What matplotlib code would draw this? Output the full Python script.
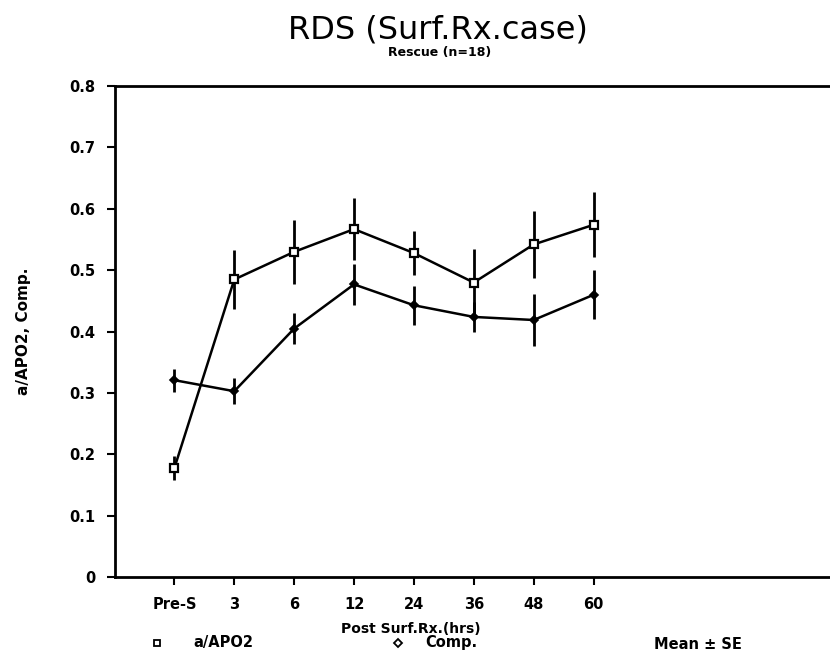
import numpy as np
import matplotlib.pyplot as plt
from matplotlib.lines import Line2D

# data
labels = ["Pre-S", "3", "6", "12", "24", "36", "48", "60"]
apo2 = [0.178, 0.485, 0.530, 0.567, 0.528, 0.480, 0.542, 0.574]
apo2_se = [0.020, 0.048, 0.052, 0.050, 0.036, 0.055, 0.055, 0.053]
comp = [0.321, 0.303, 0.405, 0.477, 0.443, 0.424, 0.419, 0.460]
comp_se = [0.019, 0.021, 0.025, 0.033, 0.032, 0.024, 0.042, 0.040]
yticks = [0, 0.1, 0.2, 0.3, 0.4, 0.5, 0.6, 0.7, 0.8]


def main():
    fig = plt.figure(figsize=(8.3, 6.62), dpi=100)
    ax = fig.add_axes([0.138, 0.128, 0.862, 0.742])

    x = np.arange(1, len(labels) + 1)

    ax.errorbar(x, apo2, yerr=apo2_se, color="black", lw=1.8, elinewidth=2.0,
                capsize=0, marker="s", ms=6, mfc="white", mec="black", mew=1.6)
    ax.errorbar(x, comp, yerr=comp_se, color="black", lw=1.8, elinewidth=2.0,
                capsize=0, marker="D", ms=4, mfc="black", mec="black", mew=1.2)

    ax.set_xlim(0, 11.95)
    ax.set_ylim(0, 0.8)
    ax.set_xticks(x)
    ax.set_xticklabels(labels, fontsize=10.5, fontweight="bold")
    ax.set_yticks(yticks)
    ax.set_yticklabels(["0"] + [f"{v:.1f}" for v in yticks[1:]],
                       fontsize=10.5, fontweight="bold")
    ax.tick_params(direction="out", length=6, width=1.5, pad=8)
    ax.tick_params(axis="x", pad=8)

    ax.spines["right"].set_visible(False)
    for s in ["left", "bottom", "top"]:
        ax.spines[s].set_linewidth(2.0)

    ax.set_ylabel("a/APO2, Comp.", fontsize=11, fontweight="bold", labelpad=27)

    fig.text(0.528, 0.955, "RDS (Surf.Rx.case)", fontsize=23, ha="center", va="center")
    fig.text(0.53, 0.921, "Rescue (n=18)", fontsize=9, fontweight="bold",
             ha="center", va="center")
    fig.text(0.495, 0.050, "Post Surf.Rx.(hrs)", fontsize=10, fontweight="bold",
             ha="center", va="center")

    # legend row along the bottom
    fig.add_artist(Line2D([0.189], [0.029], marker="s", ms=5, mfc="white",
                          mec="black", mew=1.3, transform=fig.transFigure))
    fig.text(0.233, 0.029, "a/APO2", fontsize=10.5, fontweight="bold", va="center")
    fig.add_artist(Line2D([0.479], [0.029], marker="D", ms=4, mfc="white",
                          mec="black", mew=1.3, transform=fig.transFigure))
    fig.text(0.512, 0.029, "Comp.", fontsize=10.5, fontweight="bold", va="center")
    fig.text(0.788, 0.027, "Mean \u00b1 SE", fontsize=10.5, fontweight="bold", va="center")

    fig.savefig("out.png", dpi=100)


if __name__ == "__main__":
    main()
